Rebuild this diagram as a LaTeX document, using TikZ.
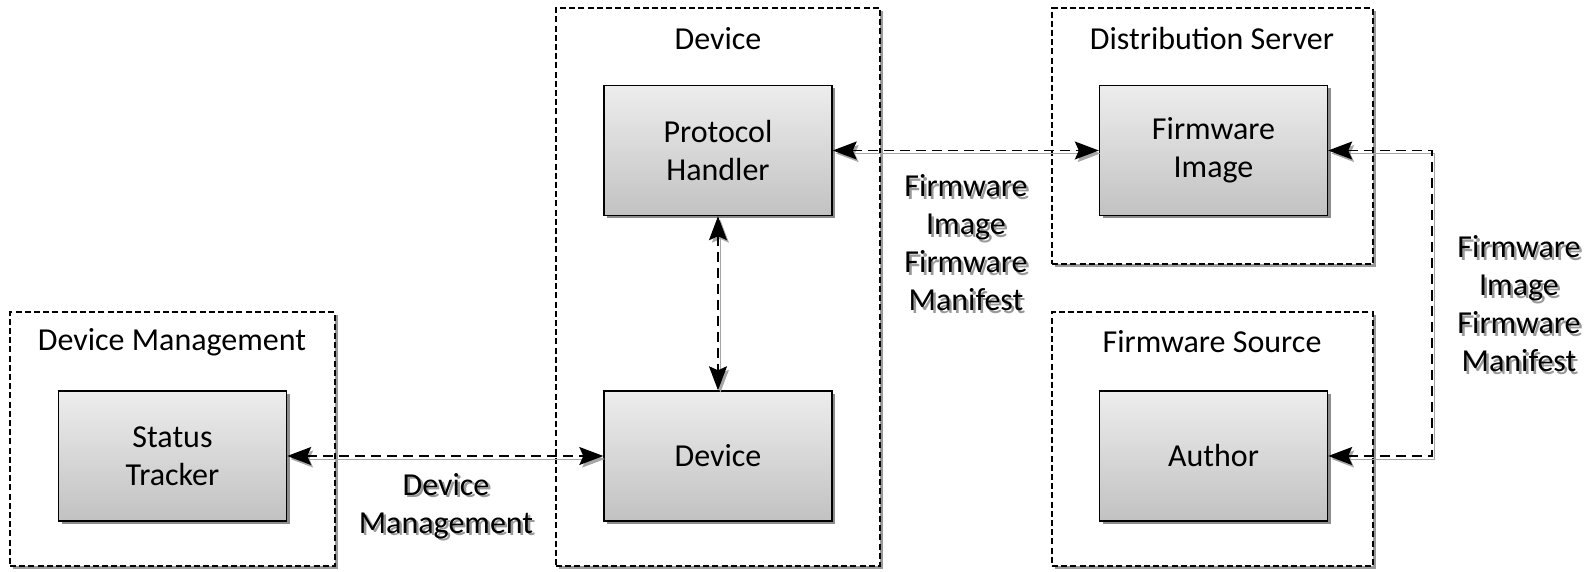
\documentclass[tikz,border=0pt]{standalone}
\usepackage{fontspec}
\setmainfont{Carlito}
\usetikzlibrary{arrows.meta,shadows}

\newcommand{\shtxt}[1]{\leavevmode\rlap{\hspace{1.2pt}\raisebox{-1.2pt}{\color{black!40}#1}}#1}

\tikzset{
  part/.style={draw=black, line width=0.7pt, shade, top color=black!7, bottom color=black!24,
    minimum width=114pt, minimum height=65pt, align=center,
    drop shadow={shadow xshift=1.5pt, shadow yshift=-1.5pt, fill=black!45, opacity=1}},
  group/.style={draw=black, line width=0.6pt, dash pattern=on 3pt off 1.6pt, fill=white,
    drop shadow={shadow xshift=1.5pt, shadow yshift=-1.5pt, fill=black!40, opacity=1}},
  link/.style={line width=0.7pt, dash pattern=on 5pt off 3pt,
    {Stealth[length=12pt,width=9pt,inset=2pt]}-{Stealth[length=12pt,width=9pt,inset=2pt]},
    preaction={draw=black!35, transform canvas={shift={(1.2pt,-1.5pt)}}}},
  linktext/.style={align=center, inner sep=0.75pt}
}

\begin{document}
\begin{tikzpicture}[x=0.5pt,y=0.5pt,yscale=-1,xscale=1]
\fontsize{16}{19}\selectfont
\useasboundingbox (0,0) rectangle (1591,572);

%Shape: Groups
\node [group, minimum width=162.5pt, minimum height=127pt] (dmgroup) at (172.5,439) {};
\node [group, minimum width=162pt, minimum height=279pt] (devgroup) at (718,287) {};
\node [group, minimum width=160.5pt, minimum height=128pt] (dsgroup) at (1212.5,136) {};
\node [group, minimum width=160.5pt, minimum height=127pt] (fsgroup) at (1212.5,439) {};

% Group titles
\node (dmtitle) at (172,342) {Device Management};
\node (devtitle) at (718,39) {Device};
\node (dstitle) at (1212,39) {Distribution Server};
\node (fstitle) at (1212,342) {Firmware Source};

%Shape: Parts
\node [part] (tracker) at (172.5,456) {Status\\Tracker};
\node [part] (handler) at (718,150.5) {Protocol\\Handler};
\node [part] (device) at (718,456) {Device};
\node [part] (image) at (1213.5,150.5) {Firmware\\Image};
\node [part] (author) at (1213.5,456) {Author};

%Straight Lines
\draw [link] (tracker.east) -- (device.west);
\draw [link] (handler.east) -- (image.west);
\draw [link] (handler.south) -- (device.north);
\coordinate (turn) at (1432,300);
\draw [link] (image.east) -| (turn) |- (author.east);

% Text Node
\node [linktext] (dmlabel) at (446,507) {\shtxt{Device}\\\shtxt{Management}};
% Text Node
\node [linktext] (fwlabel) at (966,244) {\shtxt{Firmware}\\\shtxt{Image}\\\shtxt{Firmware}\\\shtxt{Manifest}};
% Text Node
\node [linktext] (srclabel) at (1519,305) {\shtxt{Firmware}\\\shtxt{Image}\\\shtxt{Firmware}\\\shtxt{Manifest}};

\end{tikzpicture}
\end{document}
